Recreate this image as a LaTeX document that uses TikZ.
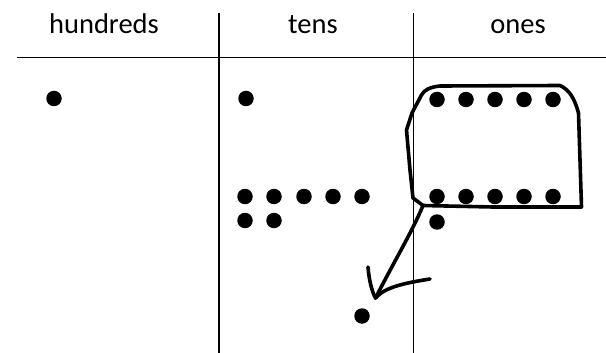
\documentclass[tikz,border=0pt]{standalone}
\usepackage{fontspec}
\setmainfont{Carlito}
\begin{document}
\begin{tikzpicture}[x=1pt,y=-1pt,
  rule/.style={line width=1.4pt,black},
  dot/.style={circle,fill=black,inner sep=0pt,minimum size=15.5pt},
  head/.style={font=\fontsize{28.5}{30}\selectfont,anchor=base,inner sep=0pt},
  pen/.style={line width=3.6pt,line join=round,line cap=round}]
\useasboundingbox (0,0) rectangle (606,353);
% table
\coordinate (hl) at (17,57.5);
\coordinate (hr) at (606,57.5);
\coordinate (v1t) at (219,13);
\coordinate (v1b) at (219,353);
\coordinate (v2t) at (413.5,13);
\coordinate (v2b) at (413.5,353);
\draw[rule] (hl) -- (hr);
\draw[rule] (v1t) -- (v1b);
\draw[rule] (v2t) -- (v2b);
\node[head] (hund) at (104,34) {hundreds};
\node[head] (tens) at (313,34) {tens};
\node[head] (ones) at (518,34) {ones};
% hundreds
\node[dot] (h1) at (54,98.5) {};
% tens
\node[dot] (t1) at (246,98.5) {};
\node[dot] (ta1) at (245,196.5) {};
\node[dot] (ta2) at (274,196.5) {};
\node[dot] (ta3) at (304,196.5) {};
\node[dot] (ta4) at (333,196.5) {};
\node[dot] (ta5) at (362,196.5) {};
\node[dot] (tb1) at (245,220.5) {};
\node[dot] (tb2) at (274,220.5) {};
\node[dot] (tnew) at (362,316) {};
% ones
\foreach \x [count=\i] in {437,466,495,524,553}{
  \node[dot] (oa\i) at (\x,99.5) {};
  \node[dot] (ob\i) at (\x,196.5) {};
}
\node[dot] (oc1) at (437,222) {};
% hand-drawn loop
\coordinate (corner) at (423,205.5);
\draw[pen] (corner) -- (493,207) -- (581.5,207)
  -- (578.5,113) .. controls (575,100) and (570,90) .. (560,85.5)
  -- (440,86) .. controls (430,87) and (424,90) .. (421.5,95)
  -- (412,113) -- (406.5,130) -- (410,170) -- (413,198) -- (corner);
% arrow
\coordinate (tip) at (375.5,298);
\draw[pen] (corner) .. controls (412,232) and (396,258) .. (tip);
\draw[pen] (368,267) .. controls (369,280) and (372,292) .. (tip)
  .. controls (385,287) and (405,283) .. (430,279);
\end{tikzpicture}
\end{document}
